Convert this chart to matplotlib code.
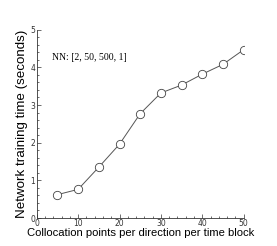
import matplotlib
matplotlib.use("Agg")
import matplotlib.pyplot as plt
from matplotlib.ticker import MultipleLocator

x = [5, 10, 15, 20, 25, 30, 35, 40, 45, 50]
y = [0.62, 0.76, 1.35, 1.96, 2.77, 3.32, 3.53, 3.82, 4.08, 4.47]
xticks = [0, 10, 20, 30, 40, 50]
yticks = [0, 1, 2, 3, 4, 5]

fig = plt.figure(figsize=(2.77, 2.46), dpi=100)
ax = fig.add_axes([36.7/277, 1-218/246, (243.7-36.7)/277, (218-29.7)/246])
ax.plot(x, y, color="#555555", lw=0.7, marker="o", ms=6, mfc="white", mec="#444444", mew=0.6)
ax.set_xlim(0, 50)
ax.set_ylim(0, 5)
ax.set_xticks(xticks)
ax.set_yticks(yticks)
ax.xaxis.set_minor_locator(MultipleLocator(2))
ax.yaxis.set_minor_locator(MultipleLocator(0.2))
for s in ["top", "right"]:
    ax.spines[s].set_visible(False)
for s in ["left", "bottom"]:
    ax.spines[s].set_linewidth(0.6)
    ax.spines[s].set_color("#333333")
ax.tick_params(which="both", direction="in", width=0.5, colors="#333333", labelsize=5.5, pad=1)
ax.tick_params(which="major", length=3)
ax.tick_params(which="minor", length=1.5)
ax.set_xlabel("Collocation points per direction per time block", family="Liberation Sans", fontsize=8.1, labelpad=0)
ax.set_ylabel("Network training time (seconds)", family="Liberation Sans", fontsize=9.6, labelpad=2)
ax.text(0.075, 0.85, "NN: [2, 50, 500, 1]", transform=ax.transAxes, family="Liberation Serif", fontsize=7, va="center")
fig.savefig("out.png", dpi=100)
